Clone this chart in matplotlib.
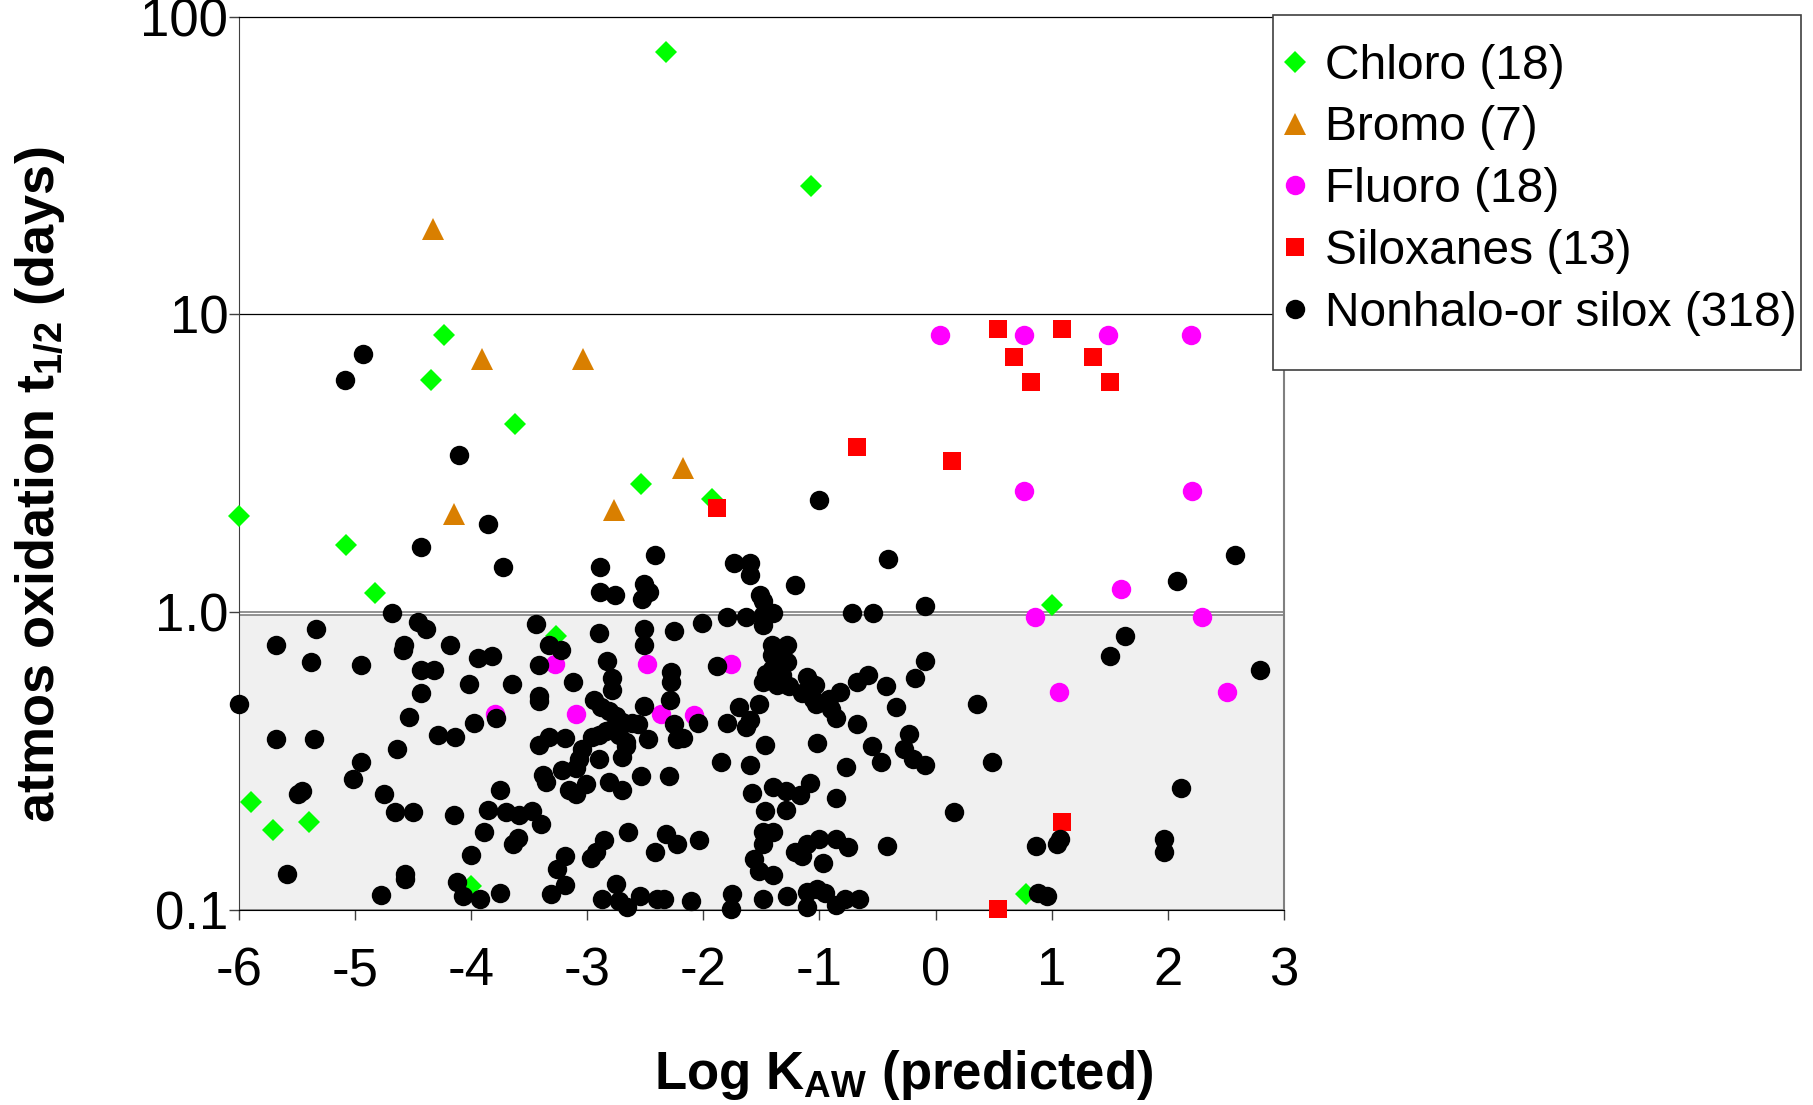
import matplotlib
matplotlib.use("Agg")
import matplotlib.pyplot as plt
from matplotlib.patches import Rectangle
from matplotlib.ticker import FixedLocator, FixedFormatter, NullLocator

plt.rcParams['font.family'] = ['Liberation Sans', 'DejaVu Sans']
plt.rcParams['axes.unicode_minus'] = False
plt.rcParams['mathtext.fontset'] = 'custom'
plt.rcParams['mathtext.rm'] = 'Liberation Sans:bold'
plt.rcParams['mathtext.it'] = 'Liberation Sans:bold'
plt.rcParams['mathtext.bf'] = 'Liberation Sans:bold'

# values (x = log Kaw, y = half-life in days)
chloro_x = [-2.32, -1.07, -4.24, -4.35, -3.62, -2.54, -1.93, -6.0, -5.08, -4.83,
            1.0, -3.27, -5.9, -5.71, -5.4, -4.0, 0.78]
chloro_y = [76, 27, 8.5, 6.0, 4.3, 2.7, 2.4, 2.1, 1.68, 1.16,
            1.06, 0.83, 0.23, 0.186, 0.198, 0.12, 0.113]

bromo_x = [-4.33, -3.91, -3.04, -2.18, -4.15, -2.77]
bromo_y = [19.3, 7.1, 7.1, 3.06, 2.14, 2.2]

fluoro_x = [0.04, 0.76, 1.49, 2.2, 0.76, 2.21, 1.6, 0.86, 2.3, 1.06, 2.51,
            -3.28, -2.49, -1.76, -3.8, -3.1, -2.37, -2.08]
fluoro_y = [8.55, 8.55, 8.55, 8.55, 2.56, 2.56, 1.2, 0.96, 0.96, 0.54, 0.54,
            0.67, 0.67, 0.67, 0.455, 0.455, 0.455, 0.45]

silox_x = [0.54, 1.09, 0.68, 1.36, 0.82, 1.5, -0.68, 0.14, -1.88, 1.09, 0.54]
silox_y = [8.94, 8.94, 7.2, 7.2, 5.93, 5.93, 3.6, 3.23, 2.24, 0.198, 0.101]

other_x = [
    -5.09, -4.93, -4.11, -3.86, -4.43, -3.73, -2.89, -2.42, -2.89, -2.76,
    -2.51, -2.47, -2.53, -1.00, -1.74, -1.60, -1.60, -1.51, -1.49, -1.21,
    -0.41, -0.09, 2.08, 2.58, -4.68, -0.72, -0.54, -5.34, -5.68, -5.38,
    -4.95, -6.0, -5.68, -5.36, -5.59, -5.46, -5.49, -4.95, -5.02, -4.75,
    -4.66, -4.50, -4.64, -4.54, -4.43, -4.43, -4.32, -4.58, -4.59, -4.46,
    -4.39, -4.18, -3.94, -3.82, -4.02, -3.65, -3.98, -3.79, -4.29, -4.14,
    -4.78, -4.57, -4.57, -4.15, -3.75, -3.86, -3.70, -3.59, -3.48, -3.40,
    -3.89, -3.60, -3.64, -4.00, -4.12, -4.07, -3.93, -3.75, -3.44, -3.33,
    -3.23, -3.42, -3.42, -3.42, -3.12, -2.90, -2.83, -2.79, -2.79, -2.51,
    -2.51, -2.25, -2.28, -2.28, -2.29, -2.51, -2.94, -2.88, -2.81, -2.75,
    -2.70, -2.62, -2.56, -2.79, -2.73, -2.67, -2.84, -2.90, -2.96, -3.33,
    -3.19, -3.42, -3.05, -3.07, -3.10, -2.90, -2.70, -2.67, -2.48, -2.25,
    -2.23, -3.38, -3.36, -3.22, -3.16, -3.10, -3.01, -2.81, -2.70, -2.54,
    -2.30, -2.65, -2.86, -2.93, -2.97, -3.19, -3.26, -3.19, -3.31, -2.87,
    -2.75, -2.73, -2.66, -2.55, -2.40, -2.34, -2.32, -2.23, -2.42, -1.41,
    -1.28, -1.41, -1.32, -1.28, -1.41, -1.46, -1.32, -1.49, -1.37, -1.26,
    -1.88, -0.09, -0.18, -0.68, -0.58, -0.43, -0.34, -1.11, -1.04, -1.15,
    -1.06, -1.03, -0.92, -0.82, -0.90, -0.86, 0.36, 0.49, -1.52, -1.69,
    -1.60, -1.63, -1.80, -2.05, -2.18, -1.47, -1.02, -0.68, -0.55, -0.47,
    -0.23, -0.27, -0.19, -0.09, -0.77, -1.85, -1.60, -1.58, -1.40, -1.29,
    -1.17, -1.08, -1.29, -1.47, -0.86, 0.16, -2.04, -1.49, -1.40, -1.49,
    -1.56, -1.52, -1.40, -1.21, -1.11, -1.00, -0.86, -0.75, -1.15, -0.97,
    -0.42, 0.87, 1.05, 1.07, -2.11, -1.75, -1.76, -1.49, -1.28, -1.11,
    -1.02, -0.95, -1.11, -0.86, -0.78, -0.66, 0.88, 0.96, 1.63, 1.50,
    2.80, 2.12, 1.97, 1.97, -1.80, -1.63, -1.49, -1.40, -1.49, -2.01,
]
other_y = [
    6.04, 7.35, 3.37, 1.97, 1.65, 1.42, 1.42, 1.55, 1.17, 1.14,
    1.24, 1.17, 1.11, 2.38, 1.46, 1.46, 1.33, 1.14, 1.09, 1.23,
    1.51, 1.05, 1.27, 1.55, 0.99, 0.99, 0.99, 0.88, 0.778, 0.681,
    0.663, 0.493, 0.374, 0.374, 0.132, 0.25, 0.246, 0.313, 0.276, 0.246,
    0.213, 0.213, 0.348, 0.443, 0.535, 0.64, 0.64, 0.778, 0.744, 0.93,
    0.875, 0.778, 0.70, 0.712, 0.574, 0.574, 0.424, 0.44, 0.388, 0.381,
    0.112, 0.132, 0.127, 0.209, 0.252, 0.217, 0.213, 0.209, 0.215, 0.195,
    0.183, 0.175, 0.167, 0.153, 0.124, 0.111, 0.109, 0.114, 0.915, 0.778,
    0.744, 0.663, 0.521, 0.502, 0.585, 0.851, 0.687, 0.60, 0.549, 0.875,
    0.778, 0.867, 0.628, 0.585, 0.507, 0.485, 0.507, 0.48, 0.464, 0.447,
    0.428, 0.424, 0.42, 0.405, 0.388, 0.367, 0.398, 0.388, 0.381, 0.381,
    0.377, 0.358, 0.348, 0.321, 0.299, 0.321, 0.327, 0.355, 0.374, 0.42,
    0.374, 0.283, 0.269, 0.296, 0.252, 0.246, 0.264, 0.269, 0.252, 0.281,
    0.281, 0.183, 0.172, 0.157, 0.149, 0.152, 0.137, 0.121, 0.113, 0.109,
    0.122, 0.107, 0.102, 0.111, 0.109, 0.109, 0.18, 0.166, 0.157, 0.778,
    0.778, 0.718, 0.718, 0.681, 0.645, 0.622, 0.617, 0.585, 0.569, 0.564,
    0.657, 0.687, 0.60, 0.585, 0.617, 0.564, 0.48, 0.606, 0.569, 0.535,
    0.511, 0.493, 0.511, 0.54, 0.472, 0.44, 0.493, 0.315, 0.493, 0.48,
    0.435, 0.413, 0.424, 0.424, 0.377, 0.358, 0.364, 0.42, 0.355, 0.315,
    0.391, 0.348, 0.321, 0.307, 0.302, 0.315, 0.307, 0.248, 0.259, 0.25,
    0.243, 0.266, 0.217, 0.215, 0.237, 0.213, 0.172, 0.183, 0.183, 0.167,
    0.148, 0.135, 0.131, 0.157, 0.167, 0.173, 0.173, 0.163, 0.152, 0.144,
    0.164, 0.164, 0.167, 0.173, 0.107, 0.113, 0.101, 0.109, 0.111, 0.115,
    0.118, 0.114, 0.102, 0.104, 0.109, 0.109, 0.114, 0.111, 0.83, 0.712,
    0.64, 0.257, 0.173, 0.156, 0.965, 0.965, 0.98, 0.99, 0.906, 0.92,
]

fig = plt.figure(figsize=(18.13, 11.05), dpi=100)
ax = fig.add_axes([0.132, 0.1765, 0.576, 0.8085])

ax.set_yscale('log')
ax.set_xlim(-6, 3)
ax.set_ylim(0.1, 100)

# shaded band below one day
ax.axhspan(0.1, 0.98, facecolor='#F0F0F0', edgecolor='#808080', linewidth=1.2, zorder=0)
ax.axhline(1.0, color='#808080', linewidth=1.2, zorder=1)
ax.axhline(10, color='black', linewidth=0.9, zorder=1)

ax.plot(chloro_x, chloro_y, ls='none', marker='D', ms=11.5, mew=0, color='#00FF00',
        label='Chloro (18)', clip_on=False, zorder=3)
ax.plot(bromo_x, bromo_y, ls='none', marker='^', ms=16, mew=0, color='#D97F00',
        label='Bromo (7)', clip_on=False, zorder=3)
ax.plot(fluoro_x, fluoro_y, ls='none', marker='o', ms=14, mew=0, color='#FF00FF',
        label='Fluoro (18)', clip_on=False, zorder=3)
ax.plot(silox_x, silox_y, ls='none', marker='s', ms=13.5, mew=0, color='#FF0000',
        label='Siloxanes (13)', clip_on=False, zorder=3)
ax.plot(other_x, other_y, ls='none', marker='o', ms=14, mew=0, color='black',
        label='Nonhalo-or silox (318)', clip_on=False, zorder=3)

ax.xaxis.set_major_locator(FixedLocator(range(-6, 4)))
ax.yaxis.set_major_locator(FixedLocator([0.1, 1, 10, 100]))
ax.yaxis.set_major_formatter(FixedFormatter(['0.1', '1.0', '10', '100']))
ax.yaxis.set_minor_locator(NullLocator())

ax.tick_params(axis='both', direction='out', length=7, width=1, color='#404040', labelsize=38)
ax.tick_params(axis='x', pad=19)
ax.tick_params(axis='y', pad=1)

ax.spines['left'].set_color('#404040')
ax.spines['bottom'].set_color('black')
ax.spines['top'].set_color('black')
ax.spines['top'].set_linewidth(0.9)
ax.spines['right'].set_color('#808080')
ax.spines['right'].set_linewidth(1.5)

fig.text(0.022, 0.561, 'atmos oxidation t$_{1/2}$ (days)', rotation=90,
         ha='center', va='center', fontsize=39, fontweight='bold')
fig.text(0.4987, 0.027, 'Log K$_{AW}$ (predicted)', ha='center', va='center',
         fontsize=38, fontweight='bold')

# legend box drawn separately so its size matches the original
box = Rectangle((0.7022, 1 - 370 / 1105), (1801 - 1273) / 1813, 355 / 1105,
                transform=fig.transFigure, facecolor='white', edgecolor='#404040',
                linewidth=1.2, zorder=2)
fig.patches.append(box)

handles, labels = ax.get_legend_handles_labels()
leg = fig.legend(handles, labels, loc='upper left', bbox_to_anchor=(0.7066, 0.9605),
                 fontsize=34.5, frameon=False, borderaxespad=0, borderpad=0,
                 labelspacing=0.35, handlelength=0.6, handletextpad=0.31, numpoints=1)
leg.set_zorder(5)

fig.savefig('out.png', dpi=100)
